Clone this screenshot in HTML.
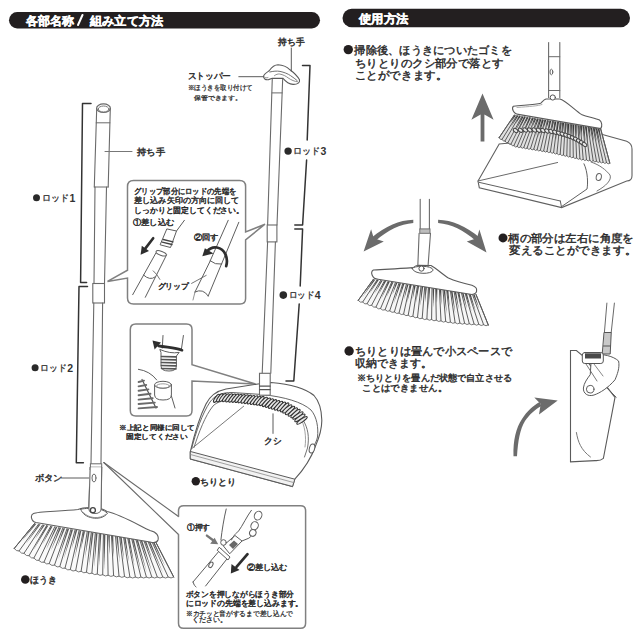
<!DOCTYPE html>
<html><head><meta charset="utf-8"><style>
html,body{margin:0;padding:0;background:#fff;width:640px;height:640px;overflow:hidden}
svg{position:absolute;left:0;top:0;display:block}
text{font-family:"Liberation Sans",sans-serif}
</style></head><body>
<svg width="640" height="640" viewBox="0 0 640 640" stroke-linecap="round">
<rect width="640" height="640" fill="#fff"/>
<rect x="9" y="12" width="311" height="16.5" rx="8.2" fill="#231f20"/>
<rect x="342.5" y="8.8" width="287.5" height="18.5" rx="9.2" fill="#231f20"/>
<line x1="78" y1="25" x2="82.5" y2="15" stroke="#fff" stroke-width="2"/>
<polyline points="91.0,103.5 82.5,103.5 80.6,282.6 86.6,282.6" stroke="#333333" stroke-width="1.5" fill="none" stroke-linejoin="round"/>
<polyline points="87.5,286.5 79.0,286.5 76.3,462.8 83.4,462.8" stroke="#333333" stroke-width="1.5" fill="none" stroke-linejoin="round"/>
<polyline points="302.5,65.5 310.0,65.5 307.2,140.0" stroke="#333333" stroke-width="1.5" fill="none" stroke-linejoin="round"/>
<polyline points="306.6,160.0 302.6,225.0 294.8,225.0" stroke="#333333" stroke-width="1.5" fill="none" stroke-linejoin="round"/>
<polyline points="294.8,229.0 302.6,229.0 300.2,286.0" stroke="#333333" stroke-width="1.5" fill="none" stroke-linejoin="round"/>
<polyline points="299.2,304.0 293.8,381.0 286.0,381.0" stroke="#333333" stroke-width="1.5" fill="none" stroke-linejoin="round"/>
<ellipse cx="103.5" cy="108.2" rx="6.9" ry="4.3" stroke="#6a6a6a" stroke-width="1.2" fill="#fff" transform="rotate(0 103.5 108.2)"/>
<ellipse cx="103.6" cy="109.0" rx="5.3" ry="3.0" stroke="#7a7a7a" stroke-width="1.0" fill="none" transform="rotate(0 103.6 109.0)"/>
<line x1="96.7" y1="108.5" x2="94.3" y2="187.0" stroke="#6a6a6a" stroke-width="1.1"/>
<line x1="110.3" y1="108.5" x2="108.2" y2="187.0" stroke="#6a6a6a" stroke-width="1.1"/>
<line x1="96.2" y1="122.8" x2="109.9" y2="122.8" stroke="#6a6a6a" stroke-width="1.0"/>
<line x1="94.3" y1="187.0" x2="108.2" y2="187.0" stroke="#6a6a6a" stroke-width="1.0"/>
<line x1="95.0" y1="187.0" x2="94.0" y2="283.5" stroke="#6a6a6a" stroke-width="1.1"/>
<line x1="106.5" y1="187.0" x2="104.5" y2="283.5" stroke="#6a6a6a" stroke-width="1.1"/>
<rect x="92.8" y="283.5" width="11.7" height="19.5" rx="0" stroke="#6a6a6a" stroke-width="1.1" fill="#fff"/>
<line x1="93.8" y1="303.0" x2="91.0" y2="463.5" stroke="#6a6a6a" stroke-width="1.1"/>
<line x1="102.6" y1="303.0" x2="101.0" y2="463.5" stroke="#6a6a6a" stroke-width="1.1"/>
<rect x="90.4" y="463.8" width="11.3" height="3.4" rx="0" stroke="#6a6a6a" stroke-width="1.0" fill="#fff"/>
<line x1="90.2" y1="467.2" x2="88.7" y2="510.0" stroke="#6a6a6a" stroke-width="1.1"/>
<line x1="101.7" y1="467.2" x2="101.0" y2="510.0" stroke="#6a6a6a" stroke-width="1.1"/>
<ellipse cx="94.0" cy="478.0" rx="2.0" ry="4.0" stroke="#6a6a6a" stroke-width="1.0" fill="none" transform="rotate(0 94.0 478.0)"/>
<line x1="61.5" y1="478.0" x2="91.0" y2="478.0" stroke="#5a5a5a" stroke-width="1.0"/>
<line x1="103.8" y1="462.5" x2="178.5" y2="516.5" stroke="#6a6a6a" stroke-width="1.1"/>
<line x1="103.8" y1="462.5" x2="178.5" y2="534.5" stroke="#6a6a6a" stroke-width="1.1"/>
<polygon points="34.6,523.5 156.0,542.5 173.7,577.0 130.0,577.0 100.0,574.5 70.0,569.5 40.0,561.0 14.2,548.5" stroke="none" stroke-width="0" fill="#fafafa" stroke-linejoin="round"/>
<line x1="34.6" y1="523.5" x2="14.2" y2="548.5" stroke="#5a5a5a" stroke-width="0.95"/>
<path d="M34.75,523.66 L36.45,523.66 L21.58,541.33 Z" fill="#5a5a5a"/>
<line x1="38.6" y1="524.1" x2="19.1" y2="550.9" stroke="#5a5a5a" stroke-width="0.95"/>
<path d="M38.91,524.31 L40.61,524.31 L25.84,543.96 Z" fill="#5a5a5a"/>
<line x1="42.7" y1="524.8" x2="24.0" y2="553.3" stroke="#5a5a5a" stroke-width="0.95"/>
<path d="M43.16,524.97 L44.86,524.97 L35.20,538.91 Z" fill="#5a5a5a"/>
<line x1="46.7" y1="525.4" x2="29.0" y2="555.7" stroke="#5a5a5a" stroke-width="0.95"/>
<path d="M46.71,525.53 L48.41,525.53 L33.01,550.84 Z" fill="#5a5a5a"/>
<line x1="50.8" y1="526.0" x2="33.9" y2="558.0" stroke="#5a5a5a" stroke-width="0.95"/>
<path d="M50.96,526.19 L52.66,526.19 L42.54,544.21 Z" fill="#5a5a5a"/>
<line x1="54.8" y1="526.7" x2="38.8" y2="560.4" stroke="#5a5a5a" stroke-width="0.95"/>
<path d="M55.60,526.92 L57.30,526.92 L46.11,549.62 Z" fill="#5a5a5a"/>
<line x1="58.9" y1="527.3" x2="44.0" y2="562.1" stroke="#5a5a5a" stroke-width="0.95"/>
<path d="M59.52,527.53 L61.22,527.53 L50.77,550.88 Z" fill="#5a5a5a"/>
<line x1="62.9" y1="527.9" x2="49.2" y2="563.6" stroke="#5a5a5a" stroke-width="0.95"/>
<path d="M63.40,528.14 L65.10,528.14 L57.38,546.76 Z" fill="#5a5a5a"/>
<line x1="67.0" y1="528.6" x2="54.5" y2="565.1" stroke="#5a5a5a" stroke-width="0.95"/>
<path d="M67.45,528.77 L69.15,528.77 L58.15,559.73 Z" fill="#5a5a5a"/>
<line x1="71.0" y1="529.2" x2="59.8" y2="566.6" stroke="#5a5a5a" stroke-width="0.95"/>
<path d="M71.40,529.39 L73.10,529.39 L63.73,558.90 Z" fill="#5a5a5a"/>
<line x1="75.1" y1="529.8" x2="65.0" y2="568.1" stroke="#5a5a5a" stroke-width="0.95"/>
<path d="M75.57,530.05 L77.27,530.05 L71.81,548.50 Z" fill="#5a5a5a"/>
<line x1="79.1" y1="530.5" x2="70.3" y2="569.6" stroke="#5a5a5a" stroke-width="0.95"/>
<path d="M79.69,530.69 L81.39,530.69 L74.57,558.74 Z" fill="#5a5a5a"/>
<line x1="83.2" y1="531.1" x2="75.7" y2="570.4" stroke="#5a5a5a" stroke-width="0.95"/>
<path d="M83.36,531.26 L85.06,531.26 L80.91,549.55 Z" fill="#5a5a5a"/>
<line x1="87.2" y1="531.7" x2="81.1" y2="571.3" stroke="#5a5a5a" stroke-width="0.95"/>
<path d="M87.87,531.97 L89.57,531.97 L85.00,558.29 Z" fill="#5a5a5a"/>
<line x1="91.3" y1="532.4" x2="86.5" y2="572.2" stroke="#5a5a5a" stroke-width="0.95"/>
<path d="M91.79,532.58 L93.49,532.58 L89.01,566.38 Z" fill="#5a5a5a"/>
<line x1="95.3" y1="533.0" x2="91.9" y2="573.1" stroke="#5a5a5a" stroke-width="0.95"/>
<path d="M95.84,533.22 L97.54,533.22 L94.13,568.00 Z" fill="#5a5a5a"/>
<line x1="99.3" y1="533.6" x2="97.3" y2="574.0" stroke="#5a5a5a" stroke-width="0.95"/>
<path d="M99.63,533.81 L101.33,533.81 L99.10,566.62 Z" fill="#5a5a5a"/>
<line x1="103.4" y1="534.3" x2="102.7" y2="574.7" stroke="#5a5a5a" stroke-width="0.95"/>
<path d="M103.71,534.45 L105.41,534.45 L104.31,569.64 Z" fill="#5a5a5a"/>
<line x1="107.4" y1="534.9" x2="108.1" y2="575.2" stroke="#5a5a5a" stroke-width="0.95"/>
<path d="M108.11,535.14 L109.81,535.14 L109.57,555.00 Z" fill="#5a5a5a"/>
<line x1="111.5" y1="535.5" x2="113.6" y2="575.6" stroke="#5a5a5a" stroke-width="0.95"/>
<path d="M111.56,535.68 L113.26,535.68 L113.74,557.62 Z" fill="#5a5a5a"/>
<line x1="115.5" y1="536.2" x2="119.0" y2="576.1" stroke="#5a5a5a" stroke-width="0.95"/>
<path d="M116.27,536.42 L117.97,536.42 L119.75,562.17 Z" fill="#5a5a5a"/>
<line x1="119.6" y1="536.8" x2="124.5" y2="576.5" stroke="#5a5a5a" stroke-width="0.95"/>
<path d="M120.05,537.01 L121.75,537.01 L124.04,560.24 Z" fill="#5a5a5a"/>
<line x1="123.6" y1="537.4" x2="129.9" y2="577.0" stroke="#5a5a5a" stroke-width="0.95"/>
<path d="M124.00,537.62 L125.70,537.62 L129.06,562.18 Z" fill="#5a5a5a"/>
<line x1="127.7" y1="538.1" x2="135.4" y2="577.0" stroke="#5a5a5a" stroke-width="0.95"/>
<path d="M127.92,538.24 L129.62,538.24 L134.56,565.89 Z" fill="#5a5a5a"/>
<line x1="131.7" y1="538.7" x2="140.9" y2="577.0" stroke="#5a5a5a" stroke-width="0.95"/>
<path d="M132.15,538.90 L133.85,538.90 L141.24,571.55 Z" fill="#5a5a5a"/>
<line x1="135.8" y1="539.3" x2="146.4" y2="577.0" stroke="#5a5a5a" stroke-width="0.95"/>
<path d="M136.28,539.55 L137.98,539.55 L146.73,572.06 Z" fill="#5a5a5a"/>
<line x1="139.8" y1="540.0" x2="151.8" y2="577.0" stroke="#5a5a5a" stroke-width="0.95"/>
<path d="M140.47,540.20 L142.17,540.20 L152.55,573.17 Z" fill="#5a5a5a"/>
<line x1="143.9" y1="540.6" x2="157.3" y2="577.0" stroke="#5a5a5a" stroke-width="0.95"/>
<path d="M144.36,540.81 L146.06,540.81 L152.49,559.75 Z" fill="#5a5a5a"/>
<line x1="147.9" y1="541.2" x2="162.8" y2="577.0" stroke="#5a5a5a" stroke-width="0.95"/>
<path d="M148.56,541.47 L150.26,541.47 L163.01,572.88 Z" fill="#5a5a5a"/>
<line x1="152.0" y1="541.9" x2="168.2" y2="577.0" stroke="#5a5a5a" stroke-width="0.95"/>
<path d="M152.64,542.11 L154.34,542.11 L165.37,566.75 Z" fill="#5a5a5a"/>
<line x1="156.0" y1="542.5" x2="173.7" y2="577.0" stroke="#5a5a5a" stroke-width="0.95"/>
<path d="M14.2,548.5 Q16.7,551.7 19.1,550.9 Q21.6,554.1 24.0,553.3 Q26.5,556.5 29.0,555.7 Q31.4,558.8 33.9,558.0 Q36.3,561.2 38.8,560.4 Q41.4,563.3 44.0,562.1 Q46.6,564.9 49.2,563.6 Q51.9,566.4 54.5,565.1 Q57.1,567.9 59.8,566.6 Q62.4,569.3 65.0,568.1 Q67.7,570.8 70.3,569.6 Q73.0,572.0 75.7,570.4 Q78.4,572.9 81.1,571.3 Q83.8,573.8 86.5,572.2 Q89.2,574.7 91.9,573.1 Q94.6,575.6 97.3,574.0 Q100.0,576.4 102.7,574.7 Q105.4,577.0 108.1,575.2 Q110.9,577.4 113.6,575.6 Q116.3,577.9 119.0,576.1 Q121.8,578.3 124.5,576.5 Q127.2,578.8 129.9,577.0 Q132.7,579.0 135.4,577.0 Q138.2,579.0 140.9,577.0 Q143.6,579.0 146.4,577.0 Q149.1,579.0 151.8,577.0 Q154.6,579.0 157.3,577.0 Q160.0,579.0 162.8,577.0 Q165.5,579.0 168.2,577.0 Q171.0,579.0 173.7,577.0" stroke="#666" stroke-width="0.9" fill="none" />
<line x1="34.6" y1="523.5" x2="14.2" y2="548.5" stroke="#5a5a5a" stroke-width="1.0"/>
<line x1="156.0" y1="542.5" x2="173.7" y2="577.0" stroke="#5a5a5a" stroke-width="1.0"/>
<path d="M33.5,513.5 C38,511.5 60,511.5 78,509.5 C84,506.5 100,506.5 107,511.5 C122,515 140,526 150,530.5 C157,532 159,536 158,540 C157,543 154,543 150,542 L36,522.5 C31,521.5 30,515 33.5,513.5 Z" stroke="#606060" stroke-width="1.1" fill="#fff" />
<path d="M80.8,509.2 C83,518.5 101,522 107.5,513.2 C104,510 99,508.5 95,508.3 C89,508.2 83,508.5 80.8,509.2 Z" stroke="#5a5a5a" stroke-width="1.0" fill="#fff" />
<path d="M83.5,512.5 C88,518.5 100,519.5 105.5,514.5" stroke="#888" stroke-width="0.9" fill="none" />
<rect x="89.2" y="470" width="11.4" height="40" fill="#fff"/>
<path d="M90.2,467.2 L88.9,509 C89,515 101,515 101.1,509 L101.7,467.2" stroke="#6a6a6a" stroke-width="1.1" fill="#fff" />
<ellipse cx="94.0" cy="478.0" rx="2.0" ry="4.0" stroke="#6a6a6a" stroke-width="1.0" fill="none" transform="rotate(0 94.0 478.0)"/>
<circle cx="92.9" cy="510.2" r="2.5" stroke="#444" stroke-width="1.3" fill="#fff"/>
<path d="M133.5,180.4 L239.6,180.4 Q245.6,180.4 245.6,186.4 L245.6,232 L265,224.2 L245.6,239.8 L245.6,298.5 Q245.6,304 240.1,304 L133.5,304 Q127.5,304 127.5,298 L127.5,278.1 L107.5,281.4 L127.5,270.2 L127.5,186.4 Q127.5,180.4 133.5,180.4 Z" stroke="#808080" stroke-width="1.5" fill="#fff" />
<path d="M135.8,323.9 L186.5,323.9 Q192,323.9 192,329.4 L192,364.6 L255.5,384 L192,381 L192,410.6 Q192,416.1 186.5,416.1 L135.8,416.1 Q130.3,416.1 130.3,410.6 L130.3,329.4 Q130.3,323.9 135.8,323.9 Z" stroke="#808080" stroke-width="1.5" fill="#fff" />
<path d="M178.5,516.5 L178.5,511 Q178.5,505.8 183.7,505.8 L300.6,505.8 Q305.6,505.8 305.6,510.8 L305.6,623.3 Q305.6,628.3 300.6,628.3 L183.5,628.3 Q178.5,628.3 178.5,623.3 L178.5,534.5" stroke="#808080" stroke-width="1.5" fill="none" />
<line x1="272.3" y1="78.0" x2="267.6" y2="225.0" stroke="#6a6a6a" stroke-width="1.1"/>
<line x1="282.7" y1="78.5" x2="277.0" y2="225.0" stroke="#6a6a6a" stroke-width="1.1"/>
<line x1="272.0" y1="92.9" x2="282.2" y2="92.9" stroke="#6a6a6a" stroke-width="1.0"/>
<rect x="267.2" y="225.0" width="9.7" height="16.9" rx="0" stroke="#6a6a6a" stroke-width="1.1" fill="#fff"/>
<line x1="267.6" y1="242.0" x2="262.2" y2="373.3" stroke="#6a6a6a" stroke-width="1.1"/>
<line x1="275.4" y1="242.0" x2="270.8" y2="373.3" stroke="#6a6a6a" stroke-width="1.1"/>
<path d="M272.3,78.2 L268.5,79.6 C265.5,80.2 263.2,78.5 263.6,76.2 C264,74 266.5,72.6 269.2,70.8 C272,66.8 275,64.8 278,64.8 C283,65 287,67 290,69.8 C294,72.8 297.5,76.2 299.5,79.8 C300.2,83 297,84.6 293,84.4 C289.5,84.1 286.5,82.6 283,78.4 Z" stroke="#5a5a5a" stroke-width="1.1" fill="#fff" />
<path d="M269.8,72 C273,71.2 277,70.8 280,71.4 C284,72.2 288,73.8 290.5,75.6 C293,77.4 295.5,79 297.2,80.6" stroke="#707070" stroke-width="1.0" fill="none" />
<path d="M274.5,75.6 C276,74.4 278,73.8 279.5,74 C283,74.6 286,76.2 288,77.8 C291,80 295,81.6 297.5,81.8" stroke="#808080" stroke-width="0.9" fill="none" />
<path d="M263.8,76.5 C265,77.8 266.5,78.4 268,77.6" stroke="#777" stroke-width="0.8" fill="none" />
<line x1="238.8" y1="76.7" x2="263.6" y2="76.7" stroke="#5a5a5a" stroke-width="1.0"/>
<line x1="291.3" y1="48.0" x2="291.3" y2="71.2" stroke="#5a5a5a" stroke-width="1.0"/>
<line x1="105.0" y1="151.5" x2="132.0" y2="151.5" stroke="#777" stroke-width="1.0"/>
<path d="M190.5,451 C194,436 199,418 206,404 C210,396 216,391 226,389 L258,384 L271,382.5 C290,384 305,388 314,395.5 C319,401 321.6,411 321.8,420 C322,430 319,438 315.5,446 C312,456 306,467 294.8,479.2 L292.5,486.5 L190.5,459 Z" stroke="#5a5a5a" stroke-width="1.1" fill="#fff" />
<path d="M190.5,451.5 L294.8,479.2 L292.5,486.5 L190.5,459 Z" fill="#f2f2f2" stroke="#5a5a5a" stroke-width="1.0"/>
<line x1="190.8" y1="454.6" x2="293.8" y2="482.6" stroke="#8a8a8a" stroke-width="0.8"/>
<path d="M191.5,449 C196,432 202,414 210,402 C215,395 222,392.5 232,392.5 L262,394.5 C285,397 302,402 311,410 C317,417 318.5,428 317.5,437 C316.8,441 314.5,445 312.5,448" stroke="#5e5e5e" stroke-width="0.95" fill="none" />
<path d="M194,447.5 C199,432 205,416 213,406 C218,401 224,400.5 232,401 L262,403.5 C283,406.5 296,411 303,420 C308,428 309.5,437 307.5,448 L304.5,457" stroke="#6a6a6a" stroke-width="0.95" fill="none" />
<path d="M300,417 C305,425 306.5,437 305,447" stroke="#8a8a8a" stroke-width="0.8" fill="none" />
<line x1="192.5" y1="448.0" x2="243.7" y2="406.2" stroke="#6a6a6a" stroke-width="0.9"/>
<ellipse cx="312.0" cy="448.5" rx="2.6" ry="4.6" stroke="#5a5a5a" stroke-width="1.0" fill="#fff" transform="rotate(15 312.0 448.5)"/>
<ellipse cx="216.6" cy="398.3" rx="4.8" ry="1.6" stroke="#333" stroke-width="1.1" fill="#e6e6e6" transform="rotate(-54.84553582395459 216.6 398.3)"/>
<ellipse cx="219.7" cy="397.8" rx="4.8" ry="1.6" stroke="#333" stroke-width="1.1" fill="#e6e6e6" transform="rotate(-54.84553582395459 219.7 397.8)"/>
<ellipse cx="222.8" cy="397.5" rx="4.9" ry="1.6" stroke="#333" stroke-width="1.1" fill="#e6e6e6" transform="rotate(-50.88705945804752 222.8 397.5)"/>
<ellipse cx="225.9" cy="397.7" rx="4.9" ry="1.6" stroke="#333" stroke-width="1.1" fill="#e6e6e6" transform="rotate(-50.88705945804752 225.9 397.7)"/>
<ellipse cx="229.1" cy="397.9" rx="5.0" ry="1.6" stroke="#333" stroke-width="1.1" fill="#e6e6e6" transform="rotate(-50.88705945804752 229.1 397.9)"/>
<ellipse cx="232.2" cy="398.1" rx="5.0" ry="1.6" stroke="#333" stroke-width="1.1" fill="#e6e6e6" transform="rotate(-50.88705945804752 232.2 398.1)"/>
<ellipse cx="235.3" cy="398.2" rx="5.1" ry="1.6" stroke="#333" stroke-width="1.1" fill="#e6e6e6" transform="rotate(-50.88705945804752 235.3 398.2)"/>
<ellipse cx="238.5" cy="398.4" rx="5.1" ry="1.6" stroke="#333" stroke-width="1.1" fill="#e6e6e6" transform="rotate(-50.88705945804752 238.5 398.4)"/>
<ellipse cx="241.6" cy="398.7" rx="5.2" ry="1.6" stroke="#333" stroke-width="1.1" fill="#e6e6e6" transform="rotate(-49.73092420748597 241.6 398.7)"/>
<ellipse cx="244.7" cy="399.0" rx="5.2" ry="1.6" stroke="#333" stroke-width="1.1" fill="#e6e6e6" transform="rotate(-49.73092420748597 244.7 399.0)"/>
<ellipse cx="247.8" cy="399.4" rx="5.3" ry="1.6" stroke="#333" stroke-width="1.1" fill="#e6e6e6" transform="rotate(-49.73092420748597 247.8 399.4)"/>
<ellipse cx="251.0" cy="399.7" rx="5.3" ry="1.6" stroke="#333" stroke-width="1.1" fill="#e6e6e6" transform="rotate(-49.73092420748597 251.0 399.7)"/>
<ellipse cx="254.1" cy="400.1" rx="5.4" ry="1.6" stroke="#333" stroke-width="1.1" fill="#e6e6e6" transform="rotate(-49.73092420748597 254.1 400.1)"/>
<ellipse cx="257.2" cy="400.5" rx="5.4" ry="1.6" stroke="#333" stroke-width="1.1" fill="#e6e6e6" transform="rotate(-49.73092420748597 257.2 400.5)"/>
<ellipse cx="260.3" cy="400.8" rx="5.5" ry="1.6" stroke="#333" stroke-width="1.1" fill="#e6e6e6" transform="rotate(-49.73092420748597 260.3 400.8)"/>
<ellipse cx="263.4" cy="401.4" rx="5.5" ry="1.6" stroke="#333" stroke-width="1.1" fill="#e6e6e6" transform="rotate(-46.476736341669614 263.4 401.4)"/>
<ellipse cx="266.4" cy="402.3" rx="5.6" ry="1.6" stroke="#333" stroke-width="1.1" fill="#e6e6e6" transform="rotate(-46.476736341669614 266.4 402.3)"/>
<ellipse cx="269.4" cy="403.1" rx="5.6" ry="1.6" stroke="#333" stroke-width="1.1" fill="#e6e6e6" transform="rotate(-46.476736341669614 269.4 403.1)"/>
<ellipse cx="272.5" cy="404.0" rx="5.7" ry="1.6" stroke="#333" stroke-width="1.1" fill="#e6e6e6" transform="rotate(-46.476736341669614 272.5 404.0)"/>
<ellipse cx="275.5" cy="404.8" rx="5.7" ry="1.6" stroke="#333" stroke-width="1.1" fill="#e6e6e6" transform="rotate(-46.476736341669614 275.5 404.8)"/>
<ellipse cx="278.5" cy="405.7" rx="5.8" ry="1.6" stroke="#333" stroke-width="1.1" fill="#e6e6e6" transform="rotate(-46.476736341669614 278.5 405.7)"/>
<ellipse cx="281.5" cy="406.5" rx="5.8" ry="1.6" stroke="#333" stroke-width="1.1" fill="#e6e6e6" transform="rotate(-46.476736341669614 281.5 406.5)"/>
<ellipse cx="284.6" cy="407.4" rx="5.9" ry="1.6" stroke="#333" stroke-width="1.1" fill="#e6e6e6" transform="rotate(-46.476736341669614 284.6 407.4)"/>
<ellipse cx="287.3" cy="408.9" rx="5.9" ry="1.6" stroke="#333" stroke-width="1.1" fill="#e6e6e6" transform="rotate(-41.410246992764755 287.3 408.9)"/>
<ellipse cx="290.0" cy="410.4" rx="6.0" ry="1.6" stroke="#333" stroke-width="1.1" fill="#e6e6e6" transform="rotate(-41.410246992764755 290.0 410.4)"/>
<ellipse cx="292.8" cy="412.0" rx="6.0" ry="1.6" stroke="#333" stroke-width="1.1" fill="#e6e6e6" transform="rotate(-41.410246992764755 292.8 412.0)"/>
<ellipse cx="295.5" cy="413.6" rx="6.0" ry="1.6" stroke="#333" stroke-width="1.1" fill="#e6e6e6" transform="rotate(-41.410246992764755 295.5 413.6)"/>
<ellipse cx="297.9" cy="415.5" rx="6.1" ry="1.6" stroke="#333" stroke-width="1.1" fill="#e6e6e6" transform="rotate(-34.71045312575156 297.9 415.5)"/>
<ellipse cx="299.9" cy="417.9" rx="6.1" ry="1.6" stroke="#333" stroke-width="1.1" fill="#e6e6e6" transform="rotate(-34.71045312575156 299.9 417.9)"/>
<ellipse cx="302.0" cy="420.3" rx="6.2" ry="1.6" stroke="#333" stroke-width="1.1" fill="#e6e6e6" transform="rotate(-34.71045312575156 302.0 420.3)"/>
<line x1="273.0" y1="413.8" x2="273.0" y2="433.4" stroke="#5a5a5a" stroke-width="1.0"/>
<rect x="259.5" y="373.3" width="10.7" height="21.9" fill="#fff" stroke="#6a6a6a" stroke-width="1.1"/>
<line x1="259.5" y1="386.1" x2="270.2" y2="386.1" stroke="#555" stroke-width="1.1"/>
<line x1="259.5" y1="389.6" x2="270.2" y2="389.6" stroke="#555" stroke-width="1.1"/>
<path d="M600.6,134 L626.7,141.2 C631,143 632,146 632,149 L632,175.8 C632,179 630,181 626.7,181 L561.6,207.6 L479.3,187.7 L478,181 L499.2,144 Z" stroke="#606060" stroke-width="1.1" fill="#fff" />
<line x1="478.0" y1="181.0" x2="557.6" y2="162.5" stroke="#6a6a6a" stroke-width="1.0"/>
<line x1="479.3" y1="182.4" x2="560.3" y2="201.0" stroke="#606060" stroke-width="1.0"/>
<path d="M584,163.8 C588,172 588,184 587,189 L561,207" stroke="#606060" stroke-width="1.0" fill="none" />
<path d="M560.3,201 L561.6,207.6" stroke="#606060" stroke-width="1.0" fill="none" />
<ellipse cx="598.8" cy="177.0" rx="2.6" ry="3.6" stroke="#666" stroke-width="1.0" fill="none" transform="rotate(10 598.8 177.0)"/>
<path d="M591,162 C600,165 606,170 610,175 C612,180 606,186 597,191" stroke="#777" stroke-width="1.0" fill="none" />
<polygon points="514.4,115.0 600.7,129.0 609.8,163.1 581.4,159.0 551.0,152.0 514.4,145.9 499.1,137.7" stroke="none" stroke-width="0" fill="#e0e0e0" stroke-linejoin="round"/>
<line x1="514.4" y1="115.0" x2="499.1" y2="137.7" stroke="#4e4e4e" stroke-width="0.9"/>
<path d="M514.52,115.14 L516.02,115.14 L509.76,123.54 Z" fill="#3a3a3a"/>
<line x1="516.9" y1="115.4" x2="502.1" y2="139.3" stroke="#4e4e4e" stroke-width="0.9"/>
<path d="M517.12,115.56 L518.62,115.56 L510.92,127.04 Z" fill="#3a3a3a"/>
<line x1="519.5" y1="115.8" x2="505.0" y2="140.9" stroke="#4e4e4e" stroke-width="0.9"/>
<path d="M519.38,115.93 L520.88,115.93 L515.55,124.02 Z" fill="#3a3a3a"/>
<line x1="522.0" y1="116.2" x2="508.0" y2="142.5" stroke="#4e4e4e" stroke-width="0.9"/>
<path d="M522.21,116.39 L523.71,116.39 L514.68,132.31 Z" fill="#3a3a3a"/>
<line x1="524.6" y1="116.6" x2="511.0" y2="144.1" stroke="#4e4e4e" stroke-width="0.9"/>
<path d="M524.36,116.74 L525.86,116.74 L517.81,131.68 Z" fill="#3a3a3a"/>
<line x1="527.1" y1="117.1" x2="513.9" y2="145.6" stroke="#4e4e4e" stroke-width="0.9"/>
<path d="M527.06,117.17 L528.56,117.17 L523.32,127.11 Z" fill="#3a3a3a"/>
<line x1="529.6" y1="117.5" x2="517.2" y2="146.4" stroke="#4e4e4e" stroke-width="0.9"/>
<path d="M529.54,117.58 L531.04,117.58 L523.79,132.93 Z" fill="#3a3a3a"/>
<line x1="532.2" y1="117.9" x2="520.5" y2="146.9" stroke="#4e4e4e" stroke-width="0.9"/>
<path d="M532.37,118.04 L533.87,118.04 L529.55,127.15 Z" fill="#3a3a3a"/>
<line x1="534.7" y1="118.3" x2="523.8" y2="147.5" stroke="#4e4e4e" stroke-width="0.9"/>
<path d="M534.78,118.43 L536.28,118.43 L532.19,127.59 Z" fill="#3a3a3a"/>
<line x1="537.2" y1="118.7" x2="527.1" y2="148.0" stroke="#4e4e4e" stroke-width="0.9"/>
<path d="M537.37,118.85 L538.87,118.85 L534.19,130.57 Z" fill="#3a3a3a"/>
<line x1="539.8" y1="119.1" x2="530.5" y2="148.6" stroke="#4e4e4e" stroke-width="0.9"/>
<path d="M539.99,119.27 L541.49,119.27 L535.37,136.81 Z" fill="#3a3a3a"/>
<line x1="542.3" y1="119.5" x2="533.8" y2="149.1" stroke="#4e4e4e" stroke-width="0.9"/>
<path d="M542.33,119.65 L543.83,119.65 L538.10,137.43 Z" fill="#3a3a3a"/>
<line x1="544.9" y1="119.9" x2="537.1" y2="149.7" stroke="#4e4e4e" stroke-width="0.9"/>
<path d="M544.77,120.05 L546.27,120.05 L543.08,129.67 Z" fill="#3a3a3a"/>
<line x1="547.4" y1="120.4" x2="540.4" y2="150.2" stroke="#4e4e4e" stroke-width="0.9"/>
<path d="M547.46,120.48 L548.96,120.48 L546.12,129.74 Z" fill="#3a3a3a"/>
<line x1="549.9" y1="120.8" x2="543.7" y2="150.8" stroke="#4e4e4e" stroke-width="0.9"/>
<path d="M549.79,120.86 L551.29,120.86 L548.00,133.56 Z" fill="#3a3a3a"/>
<line x1="552.5" y1="121.2" x2="547.0" y2="151.3" stroke="#4e4e4e" stroke-width="0.9"/>
<path d="M552.54,121.31 L554.04,121.31 L551.49,131.79 Z" fill="#3a3a3a"/>
<line x1="555.0" y1="121.6" x2="550.4" y2="151.9" stroke="#4e4e4e" stroke-width="0.9"/>
<path d="M554.79,121.67 L556.29,121.67 L553.02,138.67 Z" fill="#3a3a3a"/>
<line x1="557.5" y1="122.0" x2="553.6" y2="152.6" stroke="#4e4e4e" stroke-width="0.9"/>
<path d="M557.47,122.11 L558.97,122.11 L556.04,140.15 Z" fill="#3a3a3a"/>
<line x1="560.1" y1="122.4" x2="556.9" y2="153.4" stroke="#4e4e4e" stroke-width="0.9"/>
<path d="M560.30,122.57 L561.80,122.57 L559.86,135.42 Z" fill="#3a3a3a"/>
<line x1="562.6" y1="122.8" x2="560.2" y2="154.1" stroke="#4e4e4e" stroke-width="0.9"/>
<path d="M562.62,122.94 L564.12,122.94 L562.36,137.26 Z" fill="#3a3a3a"/>
<line x1="565.2" y1="123.2" x2="563.5" y2="154.9" stroke="#4e4e4e" stroke-width="0.9"/>
<path d="M565.25,123.37 L566.75,123.37 L565.31,138.57 Z" fill="#3a3a3a"/>
<line x1="567.7" y1="123.6" x2="566.8" y2="155.6" stroke="#4e4e4e" stroke-width="0.9"/>
<path d="M567.74,123.78 L569.24,123.78 L568.15,139.37 Z" fill="#3a3a3a"/>
<line x1="570.2" y1="124.1" x2="570.0" y2="156.4" stroke="#4e4e4e" stroke-width="0.9"/>
<path d="M570.48,124.22 L571.98,124.22 L571.26,138.89 Z" fill="#3a3a3a"/>
<line x1="572.8" y1="124.5" x2="573.3" y2="157.1" stroke="#4e4e4e" stroke-width="0.9"/>
<path d="M572.76,124.59 L574.26,124.59 L573.89,141.50 Z" fill="#3a3a3a"/>
<line x1="575.3" y1="124.9" x2="576.6" y2="157.9" stroke="#4e4e4e" stroke-width="0.9"/>
<path d="M575.20,124.98 L576.70,124.98 L576.51,137.90 Z" fill="#3a3a3a"/>
<line x1="577.9" y1="125.3" x2="579.9" y2="158.6" stroke="#4e4e4e" stroke-width="0.9"/>
<path d="M578.11,125.46 L579.61,125.46 L579.91,140.74 Z" fill="#3a3a3a"/>
<line x1="580.4" y1="125.7" x2="583.2" y2="159.3" stroke="#4e4e4e" stroke-width="0.9"/>
<path d="M580.43,125.83 L581.93,125.83 L582.10,136.02 Z" fill="#3a3a3a"/>
<line x1="582.9" y1="126.1" x2="586.5" y2="159.7" stroke="#4e4e4e" stroke-width="0.9"/>
<path d="M582.90,126.23 L584.40,126.23 L585.45,142.18 Z" fill="#3a3a3a"/>
<line x1="585.5" y1="126.5" x2="589.8" y2="160.2" stroke="#4e4e4e" stroke-width="0.9"/>
<path d="M585.24,126.61 L586.74,126.61 L588.18,142.95 Z" fill="#3a3a3a"/>
<line x1="588.0" y1="126.9" x2="593.2" y2="160.7" stroke="#4e4e4e" stroke-width="0.9"/>
<path d="M588.09,127.08 L589.59,127.08 L590.56,137.82 Z" fill="#3a3a3a"/>
<line x1="590.5" y1="127.4" x2="596.5" y2="161.2" stroke="#4e4e4e" stroke-width="0.9"/>
<path d="M590.62,127.49 L592.12,127.49 L594.10,142.38 Z" fill="#3a3a3a"/>
<line x1="593.1" y1="127.8" x2="599.8" y2="161.7" stroke="#4e4e4e" stroke-width="0.9"/>
<path d="M593.19,127.90 L594.69,127.90 L596.78,141.67 Z" fill="#3a3a3a"/>
<line x1="595.6" y1="128.2" x2="603.1" y2="162.1" stroke="#4e4e4e" stroke-width="0.9"/>
<path d="M595.74,128.32 L597.24,128.32 L600.55,146.04 Z" fill="#3a3a3a"/>
<line x1="598.2" y1="128.6" x2="606.5" y2="162.6" stroke="#4e4e4e" stroke-width="0.9"/>
<path d="M597.93,128.67 L599.43,128.67 L601.38,139.50 Z" fill="#3a3a3a"/>
<line x1="600.7" y1="129.0" x2="609.8" y2="163.1" stroke="#4e4e4e" stroke-width="0.9"/>
<path d="M499.1,137.7 Q500.6,140.5 502.1,139.3 Q503.5,142.1 505.0,140.9 Q506.5,143.7 508.0,142.5 Q509.5,145.3 511.0,144.1 Q512.4,146.8 513.9,145.6 Q515.6,148.0 517.2,146.4 Q518.8,148.6 520.5,146.9 Q522.2,149.2 523.8,147.5 Q525.5,149.7 527.1,148.0 Q528.8,150.3 530.5,148.6 Q532.1,150.9 533.8,149.1 Q535.4,151.4 537.1,149.7 Q538.7,152.0 540.4,150.2 Q542.1,152.5 543.7,150.8 Q545.4,153.1 547.0,151.3 Q548.7,153.6 550.4,151.9 Q552.0,154.3 553.6,152.6 Q555.3,155.0 556.9,153.4 Q558.6,155.7 560.2,154.1 Q561.8,156.5 563.5,154.9 Q565.1,157.3 566.8,155.6 Q568.4,158.0 570.0,156.4 Q571.7,158.8 573.3,157.1 Q574.9,159.5 576.6,157.9 Q578.2,160.3 579.9,158.6 Q581.5,161.0 583.2,159.3 Q584.8,161.5 586.5,159.7 Q588.2,162.0 589.8,160.2 Q591.5,162.5 593.2,160.7 Q594.8,162.9 596.5,161.2 Q598.1,163.4 599.8,161.7 Q601.5,163.9 603.1,162.1 Q604.8,164.4 606.5,162.6 Q608.1,164.9 609.8,163.1" stroke="#555" stroke-width="0.9" fill="none" />
<line x1="514.4" y1="115.0" x2="499.1" y2="137.7" stroke="#5a5a5a" stroke-width="1.0"/>
<line x1="600.7" y1="129.0" x2="609.8" y2="163.1" stroke="#5a5a5a" stroke-width="1.0"/>
<ellipse cx="515.6" cy="130.5" rx="2.6" ry="1.7" stroke="#444" stroke-width="1.0" fill="#e6e6e6" transform="rotate(35 515.6 130.5)"/>
<ellipse cx="520.5" cy="130.2" rx="2.6" ry="1.7" stroke="#444" stroke-width="1.0" fill="#e6e6e6" transform="rotate(35 520.5 130.2)"/>
<ellipse cx="525.2" cy="130.0" rx="2.6" ry="1.7" stroke="#444" stroke-width="1.0" fill="#e6e6e6" transform="rotate(35 525.2 130.0)"/>
<ellipse cx="529.8" cy="129.9" rx="2.6" ry="1.7" stroke="#444" stroke-width="1.0" fill="#e6e6e6" transform="rotate(35 529.8 129.9)"/>
<ellipse cx="534.4" cy="130.0" rx="2.6" ry="1.7" stroke="#444" stroke-width="1.0" fill="#e6e6e6" transform="rotate(35 534.4 130.0)"/>
<ellipse cx="538.7" cy="130.2" rx="2.6" ry="1.7" stroke="#444" stroke-width="1.0" fill="#e6e6e6" transform="rotate(35 538.7 130.2)"/>
<ellipse cx="543.0" cy="130.5" rx="2.6" ry="1.7" stroke="#444" stroke-width="1.0" fill="#e6e6e6" transform="rotate(35 543.0 130.5)"/>
<ellipse cx="547.1" cy="131.0" rx="2.6" ry="1.7" stroke="#444" stroke-width="1.0" fill="#e6e6e6" transform="rotate(35 547.1 131.0)"/>
<ellipse cx="551.1" cy="131.5" rx="2.6" ry="1.7" stroke="#444" stroke-width="1.0" fill="#e6e6e6" transform="rotate(35 551.1 131.5)"/>
<ellipse cx="555.0" cy="132.2" rx="2.6" ry="1.7" stroke="#444" stroke-width="1.0" fill="#e6e6e6" transform="rotate(35 555.0 132.2)"/>
<ellipse cx="558.8" cy="133.1" rx="2.6" ry="1.7" stroke="#444" stroke-width="1.0" fill="#e6e6e6" transform="rotate(35 558.8 133.1)"/>
<ellipse cx="562.4" cy="134.1" rx="2.6" ry="1.7" stroke="#444" stroke-width="1.0" fill="#e6e6e6" transform="rotate(35 562.4 134.1)"/>
<ellipse cx="566.0" cy="135.2" rx="2.6" ry="1.7" stroke="#444" stroke-width="1.0" fill="#e6e6e6" transform="rotate(35 566.0 135.2)"/>
<ellipse cx="569.4" cy="136.4" rx="2.6" ry="1.7" stroke="#444" stroke-width="1.0" fill="#e6e6e6" transform="rotate(35 569.4 136.4)"/>
<ellipse cx="572.6" cy="137.8" rx="2.6" ry="1.7" stroke="#444" stroke-width="1.0" fill="#e6e6e6" transform="rotate(35 572.6 137.8)"/>
<ellipse cx="575.8" cy="139.2" rx="2.6" ry="1.7" stroke="#444" stroke-width="1.0" fill="#e6e6e6" transform="rotate(35 575.8 139.2)"/>
<ellipse cx="578.8" cy="140.9" rx="2.6" ry="1.7" stroke="#444" stroke-width="1.0" fill="#e6e6e6" transform="rotate(35 578.8 140.9)"/>
<ellipse cx="581.7" cy="142.6" rx="2.6" ry="1.7" stroke="#444" stroke-width="1.0" fill="#e6e6e6" transform="rotate(35 581.7 142.6)"/>
<ellipse cx="584.5" cy="144.5" rx="2.6" ry="1.7" stroke="#444" stroke-width="1.0" fill="#e6e6e6" transform="rotate(35 584.5 144.5)"/>
<path d="M513.4,106.2 C525,105 535,104.5 540.8,103.2 C543,101 544,99.5 546,99 L560,99 C566,101 575,110 581.4,114.4 C588,117 595,118 599.5,120 C602,122 602.5,126 600.7,128.6 L518.4,114.4 C513,114 511.5,108 513.4,106.2 Z" stroke="#5a5a5a" stroke-width="1.1" fill="#fff" />
<path d="M517,107.5 C530,106.5 538,106 542,104.5" stroke="#999" stroke-width="0.8" fill="none" />
<rect x="548.6" y="42.6" width="11.2" height="55" fill="#fff"/>
<line x1="548.6" y1="42.6" x2="548.6" y2="97.5" stroke="#6a6a6a" stroke-width="1.1"/>
<line x1="559.8" y1="42.6" x2="559.8" y2="97.5" stroke="#6a6a6a" stroke-width="1.1"/>
<line x1="548.6" y1="56.7" x2="559.8" y2="56.7" stroke="#6a6a6a" stroke-width="1.0"/>
<line x1="548.6" y1="90.5" x2="559.8" y2="90.5" stroke="#6a6a6a" stroke-width="1.0"/>
<ellipse cx="551.4" cy="72.0" rx="1.4" ry="2.8" stroke="#666" stroke-width="1.0" fill="none" transform="rotate(0 551.4 72.0)"/>
<circle cx="552.8" cy="97.5" r="2.6" stroke="#555" stroke-width="1.0" fill="#fff"/>
<polygon points="480.6,141.5 484.4,141.5 484.4,114.5 493.6,119.8 482.5,93.5 471.4,119.8 480.6,114.5" stroke="none" stroke-width="0" fill="#6b6b6b" stroke-linejoin="round"/>
<polygon points="373.4,279.3 476.0,294.5 488.3,325.0 455.5,322.7 420.3,318.0 380.5,308.6 358.2,300.4" stroke="none" stroke-width="0" fill="#f6f6f6" stroke-linejoin="round"/>
<line x1="373.4" y1="279.3" x2="358.2" y2="300.4" stroke="#555" stroke-width="0.95"/>
<path d="M373.83,279.48 L375.43,279.48 L362.31,297.18 Z" fill="#4a4a4a"/>
<line x1="377.1" y1="279.8" x2="362.7" y2="302.0" stroke="#555" stroke-width="0.95"/>
<path d="M377.18,279.98 L378.78,279.98 L369.29,293.72 Z" fill="#4a4a4a"/>
<line x1="380.7" y1="280.4" x2="367.1" y2="303.7" stroke="#555" stroke-width="0.95"/>
<path d="M381.10,280.56 L382.70,280.56 L374.49,293.67 Z" fill="#4a4a4a"/>
<line x1="384.4" y1="280.9" x2="371.6" y2="305.3" stroke="#555" stroke-width="0.95"/>
<path d="M384.59,281.08 L386.19,281.08 L378.45,294.69 Z" fill="#4a4a4a"/>
<line x1="388.1" y1="281.5" x2="376.0" y2="307.0" stroke="#555" stroke-width="0.95"/>
<path d="M388.26,281.62 L389.86,281.62 L381.15,298.90 Z" fill="#4a4a4a"/>
<line x1="391.7" y1="282.0" x2="380.5" y2="308.6" stroke="#555" stroke-width="0.95"/>
<path d="M391.87,282.16 L393.47,282.16 L386.33,297.62 Z" fill="#4a4a4a"/>
<line x1="395.4" y1="282.6" x2="385.1" y2="309.7" stroke="#555" stroke-width="0.95"/>
<path d="M395.88,282.75 L397.48,282.75 L392.41,294.54 Z" fill="#4a4a4a"/>
<line x1="399.0" y1="283.1" x2="389.7" y2="310.8" stroke="#555" stroke-width="0.95"/>
<path d="M399.40,283.27 L401.00,283.27 L393.64,303.57 Z" fill="#4a4a4a"/>
<line x1="402.7" y1="283.6" x2="394.4" y2="311.9" stroke="#555" stroke-width="0.95"/>
<path d="M402.87,283.79 L404.47,283.79 L399.52,298.36 Z" fill="#4a4a4a"/>
<line x1="406.4" y1="284.2" x2="399.0" y2="313.0" stroke="#555" stroke-width="0.95"/>
<path d="M406.90,284.38 L408.50,284.38 L404.04,299.46 Z" fill="#4a4a4a"/>
<line x1="410.0" y1="284.7" x2="403.6" y2="314.1" stroke="#555" stroke-width="0.95"/>
<path d="M410.11,284.86 L411.71,284.86 L407.18,302.62 Z" fill="#4a4a4a"/>
<line x1="413.7" y1="285.3" x2="408.2" y2="315.2" stroke="#555" stroke-width="0.95"/>
<path d="M414.15,285.46 L415.75,285.46 L412.58,299.37 Z" fill="#4a4a4a"/>
<line x1="417.4" y1="285.8" x2="412.9" y2="316.2" stroke="#555" stroke-width="0.95"/>
<path d="M417.54,285.96 L419.14,285.96 L415.96,303.09 Z" fill="#4a4a4a"/>
<line x1="421.0" y1="286.4" x2="417.5" y2="317.3" stroke="#555" stroke-width="0.95"/>
<path d="M421.58,286.56 L423.18,286.56 L420.45,305.39 Z" fill="#4a4a4a"/>
<line x1="424.7" y1="286.9" x2="422.2" y2="318.2" stroke="#555" stroke-width="0.95"/>
<path d="M425.26,287.10 L426.86,287.10 L425.00,302.51 Z" fill="#4a4a4a"/>
<line x1="428.4" y1="287.4" x2="426.9" y2="318.9" stroke="#555" stroke-width="0.95"/>
<path d="M428.54,287.59 L430.14,287.59 L428.50,309.39 Z" fill="#4a4a4a"/>
<line x1="432.0" y1="288.0" x2="431.6" y2="319.5" stroke="#555" stroke-width="0.95"/>
<path d="M432.61,288.19 L434.21,288.19 L433.37,307.42 Z" fill="#4a4a4a"/>
<line x1="435.7" y1="288.5" x2="436.3" y2="320.1" stroke="#555" stroke-width="0.95"/>
<path d="M435.79,288.66 L437.39,288.66 L436.99,303.55 Z" fill="#4a4a4a"/>
<line x1="439.4" y1="289.1" x2="441.0" y2="320.8" stroke="#555" stroke-width="0.95"/>
<path d="M439.68,289.24 L441.28,289.24 L441.46,305.10 Z" fill="#4a4a4a"/>
<line x1="443.0" y1="289.6" x2="445.7" y2="321.4" stroke="#555" stroke-width="0.95"/>
<path d="M443.55,289.81 L445.15,289.81 L446.71,314.37 Z" fill="#4a4a4a"/>
<line x1="446.7" y1="290.2" x2="450.4" y2="322.0" stroke="#555" stroke-width="0.95"/>
<path d="M446.75,290.29 L448.35,290.29 L449.69,307.41 Z" fill="#4a4a4a"/>
<line x1="450.4" y1="290.7" x2="455.1" y2="322.6" stroke="#555" stroke-width="0.95"/>
<path d="M450.87,290.90 L452.47,290.90 L455.23,312.89 Z" fill="#4a4a4a"/>
<line x1="454.0" y1="291.2" x2="459.9" y2="323.0" stroke="#555" stroke-width="0.95"/>
<path d="M454.54,291.44 L456.14,291.44 L458.86,309.34 Z" fill="#4a4a4a"/>
<line x1="457.7" y1="291.8" x2="464.6" y2="323.3" stroke="#555" stroke-width="0.95"/>
<path d="M457.71,291.91 L459.31,291.91 L462.39,309.00 Z" fill="#4a4a4a"/>
<line x1="461.3" y1="292.3" x2="469.3" y2="323.7" stroke="#555" stroke-width="0.95"/>
<path d="M461.86,292.52 L463.46,292.52 L467.13,309.22 Z" fill="#4a4a4a"/>
<line x1="465.0" y1="292.9" x2="474.1" y2="324.0" stroke="#555" stroke-width="0.95"/>
<path d="M465.19,293.02 L466.79,293.02 L471.57,311.51 Z" fill="#4a4a4a"/>
<line x1="468.7" y1="293.4" x2="478.8" y2="324.3" stroke="#555" stroke-width="0.95"/>
<path d="M468.91,293.57 L470.51,293.57 L475.90,311.84 Z" fill="#4a4a4a"/>
<line x1="472.3" y1="294.0" x2="483.6" y2="324.7" stroke="#555" stroke-width="0.95"/>
<path d="M472.94,294.17 L474.54,294.17 L479.39,309.04 Z" fill="#4a4a4a"/>
<line x1="476.0" y1="294.5" x2="488.3" y2="325.0" stroke="#555" stroke-width="0.95"/>
<path d="M358.2,300.4 Q360.4,303.2 362.7,302.0 Q364.9,304.9 367.1,303.7 Q369.3,306.5 371.6,305.3 Q373.8,308.1 376.0,307.0 Q378.3,309.8 380.5,308.6 Q382.8,311.1 385.1,309.7 Q387.4,312.2 389.7,310.8 Q392.1,313.3 394.4,311.9 Q396.7,314.4 399.0,313.0 Q401.3,315.5 403.6,314.1 Q405.9,316.6 408.2,315.2 Q410.6,317.7 412.9,316.2 Q415.2,318.8 417.5,317.3 Q419.8,319.8 422.2,318.2 Q424.5,320.6 426.9,318.9 Q429.2,321.2 431.6,319.5 Q433.9,321.8 436.3,320.1 Q438.6,322.4 441.0,320.8 Q443.3,323.1 445.7,321.4 Q448.1,323.7 450.4,322.0 Q452.8,324.3 455.1,322.6 Q457.5,324.8 459.9,323.0 Q462.2,325.2 464.6,323.3 Q467.0,325.5 469.3,323.7 Q471.7,325.8 474.1,324.0 Q476.4,326.2 478.8,324.3 Q481.2,326.5 483.6,324.7 Q485.9,326.8 488.3,325.0" stroke="#666" stroke-width="0.9" fill="none" />
<line x1="373.4" y1="279.3" x2="358.2" y2="300.4" stroke="#5a5a5a" stroke-width="1.0"/>
<line x1="476.0" y1="294.5" x2="488.3" y2="325.0" stroke="#5a5a5a" stroke-width="1.0"/>
<path d="M373.4,270 C385,269.5 400,268.5 413.3,267.6 C415,266 416,265.2 418,265.2 L431,265.5 C436,268 442,274 448.4,278 C456,281.5 464,283.5 471.9,285.2 C475,286.5 477,288 476.6,290 C477,292.5 475,294.5 471.9,294.5 L378.1,279.3 C372,279 370,272 373.4,270 Z" stroke="#5a5a5a" stroke-width="1.1" fill="#fff" />
<line x1="420.2" y1="199.4" x2="420.2" y2="229.0" stroke="#6a6a6a" stroke-width="1.1"/>
<line x1="429.4" y1="199.4" x2="429.4" y2="229.0" stroke="#6a6a6a" stroke-width="1.1"/>
<rect x="419.8" y="228.9" width="10.2" height="4.4" fill="#bdbdbd" stroke="#666" stroke-width="0.9"/>
<line x1="419.1" y1="233.3" x2="417.8" y2="266.5" stroke="#6a6a6a" stroke-width="1.1"/>
<line x1="430.5" y1="233.3" x2="428.0" y2="266.5" stroke="#6a6a6a" stroke-width="1.1"/>
<path d="M412.1,268.5 C413,265.5 432,265 433.2,270 C432,274.5 414,275 412.1,268.5 Z" stroke="#5a5a5a" stroke-width="1.0" fill="#fff" />
<circle cx="421.5" cy="268.6" r="2.6" stroke="#555" stroke-width="1.0" fill="#fff"/>
<path d="M413.3,219.7 C399,220.3 386,225.5 371.5,237.8 L375.5,241 C388,230 400,224.3 413.3,223.1 Z" fill="#6b6b6b"/>
<polygon points="363.6,251.4 371.1,229.3 373.8,238.2 383.8,241.5" stroke="none" stroke-width="0" fill="#6b6b6b" stroke-linejoin="round"/>
<path d="M438.1,219.7 C452.4,220.3 465.4,225.5 479.9,237.8 L475.9,241 C463.4,230 451.4,224.3 438.1,223.1 Z" fill="#6b6b6b"/>
<polygon points="486.5,252.5 479.4,229.6 476.9,238.2 466.8,241.6" stroke="none" stroke-width="0" fill="#6b6b6b" stroke-linejoin="round"/>
<path d="M570.5,350.5 L576.4,350.5 L583.4,356.3 L615,397.3 L603.4,458.3 C601,460.5 598,460.8 595,460.6 L570.5,461.8 Z" stroke="#5a5a5a" stroke-width="1.1" fill="#fff" />
<line x1="606.9" y1="303.1" x2="604.4" y2="332.5" stroke="#6a6a6a" stroke-width="1.0"/>
<line x1="614.4" y1="303.1" x2="611.2" y2="332.5" stroke="#6a6a6a" stroke-width="1.0"/>
<path d="M604.4,332.5 L611.25,332.5 L610.2,354 L602.6,354 Z" fill="#c8c8c8" stroke="#555" stroke-width="1"/>
<line x1="603.4" y1="346.0" x2="610.6" y2="346.0" stroke="#555" stroke-width="1.0"/>
<path d="M592,354 C604,354 613,356 618.6,361 C620,368 617,375 615,379.8 C608,388 600,393 594,395 C588,397 583,393.5 583.4,388 C584,383 587,379 590,375 Z" stroke="#5a5a5a" stroke-width="1.0" fill="#fff" />
<line x1="586.0" y1="364.0" x2="597.0" y2="381.0" stroke="#6a6a6a" stroke-width="0.9"/>
<line x1="594.0" y1="364.0" x2="603.0" y2="376.0" stroke="#7a7a7a" stroke-width="0.9"/>
<rect x="582.3" y="352.5" width="21.0" height="11.0" rx="2.5" stroke="#555" stroke-width="1.0" fill="#fff"/>
<rect x="585" y="353.3" width="16" height="5.2" fill="#4a4a4a"/>
<circle cx="590.2" cy="389.2" r="3.8" stroke="#5a5a5a" stroke-width="1.0" fill="#fff"/>
<line x1="606.9" y1="388.0" x2="616.2" y2="397.3" stroke="#5a5a5a" stroke-width="1.0"/>
<path d="M576.4,432.5 C578,442 581,450 590.5,457" stroke="#777" stroke-width="1.0" fill="none" />
<path d="M513.5,456.2 C513,440 516,428 522,419 C527,411 533,406 539.5,402 L541.5,406 C535,409.5 530,414 525,421 C520,429 518,441 517,456.2 Z" fill="#6b6b6b"/>
<polygon points="557.7,400.5 534.3,397.6 540.7,404.0 539.0,414.6" stroke="none" stroke-width="0" fill="#6b6b6b" stroke-linejoin="round"/>
<line x1="184.4" y1="220.3" x2="176.5" y2="231.0" stroke="#5e5e5e" stroke-width="1.0"/>
<polygon points="167.2,229.0 176.5,231.0 170.5,247.5 160.5,244.9" stroke="#5e5e5e" stroke-width="1.0" fill="#fff" stroke-linejoin="round"/>
<line x1="163.2" y1="239.5" x2="173.0" y2="241.8" stroke="#444" stroke-width="1.3"/>
<line x1="162.2" y1="242.2" x2="172.0" y2="244.5" stroke="#444" stroke-width="1.3"/>
<line x1="155.9" y1="253.0" x2="132.7" y2="294.7" stroke="#5e5e5e" stroke-width="1.0"/>
<line x1="166.5" y1="255.0" x2="145.3" y2="297.3" stroke="#5e5e5e" stroke-width="1.0"/>
<ellipse cx="161.2" cy="253.3" rx="5.4" ry="2.0" stroke="#5e5e5e" stroke-width="1.0" fill="#fff" transform="rotate(20 161.2 253.3)"/>
<path d="M143.5,275 Q150,281 155,277" stroke="#5e5e5e" stroke-width="1.0" fill="none" />
<path d="M153.2,270.8 Q157,274 159.9,279.4" stroke="#666" stroke-width="0.9" fill="none" />
<line x1="153.2" y1="238.2" x2="145.4" y2="248.4" stroke="#2e2e2e" stroke-width="2.6"/>
<polygon points="140.6,254.8 149.0,251.1 141.8,245.7" stroke="none" stroke-width="0" fill="#2e2e2e" stroke-linejoin="round"/>
<line x1="228.2" y1="220.3" x2="210.2" y2="260.8" stroke="#5e5e5e" stroke-width="1.0"/>
<line x1="238.8" y1="222.3" x2="221.5" y2="264.1" stroke="#5e5e5e" stroke-width="1.0"/>
<path d="M210.2,260.8 Q215,265 221.5,264.1" stroke="#5e5e5e" stroke-width="1.0" fill="none" />
<line x1="210.2" y1="261.0" x2="195.0" y2="292.0" stroke="#5e5e5e" stroke-width="1.0"/>
<line x1="221.5" y1="264.0" x2="208.2" y2="296.0" stroke="#5e5e5e" stroke-width="1.0"/>
<path d="M195,292 Q203,288 208.2,296" stroke="#5e5e5e" stroke-width="1.0" fill="none" />
<path d="M193,300 L195,292" stroke="#777" stroke-width="0.8" fill="none" />
<path d="M226.2,266.1 C228.5,258 225,249 217,247.5 C212.5,246.8 209,249 207,251.5" stroke="#2e2e2e" stroke-width="2.7" fill="none" />
<polygon points="202.3,256.2 204.9,248.2 213.5,253.5" stroke="none" stroke-width="0" fill="#2e2e2e" stroke-linejoin="round"/>
<line x1="191.6" y1="283.4" x2="206.2" y2="275.4" stroke="#666" stroke-width="0.9"/>
<line x1="163.0" y1="335.5" x2="162.3" y2="348.0" stroke="#5e5e5e" stroke-width="1.0"/>
<line x1="183.4" y1="335.5" x2="181.3" y2="350.0" stroke="#5e5e5e" stroke-width="1.0"/>
<path d="M160.2,349.6 Q170,354 179.2,352.4 L176.4,356 L176.4,366 Q176.4,371 169,371 Q161,371 161,366 L161,353 Z" stroke="#5e5e5e" stroke-width="1.0" fill="#fff" />
<line x1="161.5" y1="356.5" x2="176.0" y2="356.9" stroke="#555" stroke-width="1.6"/>
<line x1="161.5" y1="359.5" x2="176.0" y2="359.9" stroke="#555" stroke-width="1.6"/>
<line x1="161.5" y1="362.5" x2="176.0" y2="362.9" stroke="#555" stroke-width="1.6"/>
<line x1="161.5" y1="365.5" x2="176.0" y2="365.9" stroke="#555" stroke-width="1.6"/>
<line x1="161.5" y1="368.5" x2="176.0" y2="368.9" stroke="#555" stroke-width="1.6"/>
<path d="M182,350.2 C176,347.8 168,347.5 158.5,345.8" stroke="#2e2e2e" stroke-width="2.7" fill="none" />
<polygon points="152.5,340.5 154.6,349.6 161.0,342.6" stroke="none" stroke-width="0" fill="#2e2e2e" stroke-linejoin="round"/>
<path d="M138.4,369.3 Q150,371 156.7,379.9" stroke="#5e5e5e" stroke-width="1.0" fill="none" />
<path d="M154.6,385 L154.6,395 Q155,400 163,400 Q171.4,400 171.4,395 L171.4,385" stroke="#5e5e5e" stroke-width="1.0" fill="#fff" />
<ellipse cx="163.0" cy="384.8" rx="8.4" ry="3.5" stroke="#5e5e5e" stroke-width="1.0" fill="#fff" transform="rotate(0 163.0 384.8)"/>
<ellipse cx="163.0" cy="386.0" rx="6.5" ry="2.2" stroke="#888" stroke-width="0.8" fill="none" transform="rotate(0 163.0 386.0)"/>
<line x1="171.4" y1="396.0" x2="175.0" y2="408.0" stroke="#5e5e5e" stroke-width="1.0"/>
<line x1="142.0" y1="379.5" x2="156.0" y2="408.0" stroke="#555" stroke-width="1.2"/>
<line x1="138.6" y1="382.0" x2="144.0" y2="380.6" stroke="#6a6a6a" stroke-width="1.9"/>
<line x1="138.6" y1="386.4" x2="146.2" y2="385.0" stroke="#6a6a6a" stroke-width="1.9"/>
<line x1="138.6" y1="390.8" x2="148.4" y2="389.4" stroke="#6a6a6a" stroke-width="1.9"/>
<line x1="138.6" y1="395.2" x2="150.5" y2="393.8" stroke="#6a6a6a" stroke-width="1.9"/>
<line x1="138.6" y1="399.6" x2="152.7" y2="398.2" stroke="#6a6a6a" stroke-width="1.9"/>
<line x1="138.6" y1="404.0" x2="154.8" y2="402.6" stroke="#6a6a6a" stroke-width="1.9"/>
<line x1="138.6" y1="408.4" x2="157.0" y2="407.0" stroke="#6a6a6a" stroke-width="1.9"/>
<line x1="193.0" y1="582.0" x2="220.9" y2="548.9" stroke="#5e5e5e" stroke-width="1.0"/>
<line x1="205.6" y1="586.0" x2="227.5" y2="558.2" stroke="#5e5e5e" stroke-width="1.0"/>
<path d="M193,582 Q194,586 196,587" stroke="#5e5e5e" stroke-width="1.0" fill="none" />
<polygon points="219.5,547.5 230.0,557.0 228.0,560.0 217.5,550.5" stroke="#5e5e5e" stroke-width="1.0" fill="#fff" stroke-linejoin="round"/>
<polygon points="223.5,545.5 235.0,535.5 242.0,541.0 230.0,553.5" stroke="#5e5e5e" stroke-width="1.0" fill="#fff" stroke-linejoin="round"/>
<polygon points="229.0,545.0 234.0,540.5 238.0,544.0 233.0,549.0" stroke="none" stroke-width="0" fill="#6a6a6a" stroke-linejoin="round"/>
<circle cx="223.5" cy="542.5" r="2.8" stroke="#5e5e5e" stroke-width="1.0" fill="#fff"/>
<path d="M220.9,540 C222,530 224,518 226.2,509" stroke="#5e5e5e" stroke-width="1.0" fill="none" />
<path d="M231.5,540 C234,535 236,533 238.2,531.6 C243,525 247,516 251.4,510.3" stroke="#5e5e5e" stroke-width="1.0" fill="none" />
<path d="M242,541 L248.8,538.2 C252,536 253,534 252.8,532.9" stroke="#5e5e5e" stroke-width="1.0" fill="none" />
<ellipse cx="258.1" cy="515.6" rx="3.6" ry="4.6" stroke="#5e5e5e" stroke-width="1.0" fill="#fff" transform="rotate(25 258.1 515.6)"/>
<ellipse cx="254.6" cy="525.8" rx="3.6" ry="4.2" stroke="#5e5e5e" stroke-width="1.0" fill="#fff" transform="rotate(25 254.6 525.8)"/>
<ellipse cx="252.8" cy="532.9" rx="3.2" ry="3.4" stroke="#5e5e5e" stroke-width="1.0" fill="#fff" transform="rotate(25 252.8 532.9)"/>
<ellipse cx="210.9" cy="564.8" rx="1.8" ry="3.0" stroke="#5e5e5e" stroke-width="1.0" fill="none" transform="rotate(30 210.9 564.8)"/>
<line x1="206.9" y1="535.6" x2="213.4" y2="540.5" stroke="#777" stroke-width="2.4"/>
<polygon points="218.2,544.2 210.2,543.7 214.6,537.8" stroke="none" stroke-width="0" fill="#777" stroke-linejoin="round"/>
<line x1="247.5" y1="554.2" x2="236.5" y2="566.8" stroke="#2e2e2e" stroke-width="2.7"/>
<polygon points="230.8,573.4 231.5,564.1 239.5,570.1" stroke="none" stroke-width="0" fill="#2e2e2e" stroke-linejoin="round"/>
<text x="25.6" y="21.0" font-size="12" font-weight="bold" fill="#fff" stroke="#fff" stroke-width="0.35" dominant-baseline="central" textLength="48.2" lengthAdjust="spacingAndGlyphs">各部名称</text>
<text x="90.0" y="21.0" font-size="12" font-weight="bold" fill="#fff" stroke="#fff" stroke-width="0.35" dominant-baseline="central" textLength="73.3" lengthAdjust="spacingAndGlyphs">組み立て方法</text>
<text x="359.0" y="19.4" font-size="12" font-weight="bold" fill="#fff" stroke="#fff" stroke-width="0.35" dominant-baseline="central" textLength="49.5" lengthAdjust="spacingAndGlyphs">使用方法</text>
<text x="278.1" y="41.7" font-size="9.2" font-weight="normal" fill="#2e2e2e" stroke="#2e2e2e" stroke-width="0.45" dominant-baseline="central" textLength="26.3" lengthAdjust="spacingAndGlyphs">持ち手</text>
<text x="187.6" y="76.2" font-size="9.2" font-weight="normal" fill="#2e2e2e" stroke="#2e2e2e" stroke-width="0.45" dominant-baseline="central" textLength="43.6" lengthAdjust="spacingAndGlyphs">ストッパー</text>
<text x="187.8" y="87.5" font-size="6.6" font-weight="normal" fill="#333" stroke="#333" stroke-width="0.28" dominant-baseline="central" textLength="64.8" lengthAdjust="spacingAndGlyphs">※ほうきを取り付けて</text>
<text x="193.9" y="97.0" font-size="6.4" font-weight="normal" fill="#333" stroke="#333" stroke-width="0.28" dominant-baseline="central" textLength="48.3" lengthAdjust="spacingAndGlyphs">保管できます。</text>
<text x="137.0" y="151.6" font-size="9.2" font-weight="normal" fill="#2e2e2e" stroke="#2e2e2e" stroke-width="0.45" dominant-baseline="central" textLength="27.8" lengthAdjust="spacingAndGlyphs">持ち手</text>
<circle cx="288.1" cy="151.1" r="3.7" fill="#2a2a2a"/>
<text x="292.8" y="151.1" font-size="8.8" font-weight="normal" fill="#333" stroke="#333" stroke-width="0.3" dominant-baseline="central" textLength="27.2" lengthAdjust="spacingAndGlyphs">ロッド</text>
<text x="320.6" y="154.9" font-size="10.5" font-weight="bold" fill="#333" style="font-family:'Liberation Sans',sans-serif">3</text>
<circle cx="36.5" cy="197.7" r="3.5" fill="#2a2a2a"/>
<text x="42.3" y="197.7" font-size="8.8" font-weight="normal" fill="#333" stroke="#333" stroke-width="0.3" dominant-baseline="central" textLength="27.0" lengthAdjust="spacingAndGlyphs">ロッド</text>
<text x="69.6" y="201.5" font-size="10.5" font-weight="bold" fill="#333" style="font-family:'Liberation Sans',sans-serif">1</text>
<circle cx="283.3" cy="295.1" r="3.8" fill="#2a2a2a"/>
<text x="288.7" y="295.1" font-size="8.8" font-weight="normal" fill="#333" stroke="#333" stroke-width="0.3" dominant-baseline="central" textLength="25.8" lengthAdjust="spacingAndGlyphs">ロッド</text>
<text x="314.7" y="298.9" font-size="10.5" font-weight="bold" fill="#333" style="font-family:'Liberation Sans',sans-serif">4</text>
<circle cx="35.1" cy="367.7" r="3.5" fill="#2a2a2a"/>
<text x="40.0" y="367.7" font-size="8.8" font-weight="normal" fill="#333" stroke="#333" stroke-width="0.3" dominant-baseline="central" textLength="26.4" lengthAdjust="spacingAndGlyphs">ロッド</text>
<text x="67.2" y="371.5" font-size="10.5" font-weight="bold" fill="#333" style="font-family:'Liberation Sans',sans-serif">2</text>
<text x="134.2" y="191.7" font-size="7.6" font-weight="normal" fill="#2e2e2e" stroke="#2e2e2e" stroke-width="0.45" dominant-baseline="central" textLength="102.0" lengthAdjust="spacingAndGlyphs">グリップ部分にロッドの先端を</text>
<text x="134.2" y="200.7" font-size="7.6" font-weight="normal" fill="#2e2e2e" stroke="#2e2e2e" stroke-width="0.45" dominant-baseline="central" textLength="105.1" lengthAdjust="spacingAndGlyphs">差し込み矢印の方向に回して</text>
<text x="134.2" y="210.2" font-size="7.6" font-weight="normal" fill="#2a2a2a" stroke="#2a2a2a" stroke-width="0.45" dominant-baseline="central" textLength="109.8" lengthAdjust="spacingAndGlyphs">しっかりと固定してください。</text>
<text x="132.9" y="222.2" font-size="7.8" font-weight="normal" fill="#2e2e2e" stroke="#2e2e2e" stroke-width="0.45" dominant-baseline="central" textLength="41.3" lengthAdjust="spacingAndGlyphs">①差し込む</text>
<text x="193.9" y="237.6" font-size="7.8" font-weight="normal" fill="#2e2e2e" stroke="#2e2e2e" stroke-width="0.45" dominant-baseline="central" textLength="24.7" lengthAdjust="spacingAndGlyphs">②回す</text>
<text x="157.5" y="286.7" font-size="7.8" font-weight="normal" fill="#2e2e2e" stroke="#2e2e2e" stroke-width="0.45" dominant-baseline="central" textLength="31.3" lengthAdjust="spacingAndGlyphs">グリップ</text>
<text x="119.2" y="427.0" font-size="7.4" font-weight="normal" fill="#2e2e2e" stroke="#2e2e2e" stroke-width="0.45" dominant-baseline="central" textLength="75.8" lengthAdjust="spacingAndGlyphs">※上記と同様に回して</text>
<text x="125.9" y="436.2" font-size="7.4" font-weight="normal" fill="#2e2e2e" stroke="#2e2e2e" stroke-width="0.45" dominant-baseline="central" textLength="61.8" lengthAdjust="spacingAndGlyphs">固定してください</text>
<text x="263.9" y="440.5" font-size="9" font-weight="normal" fill="#2e2e2e" stroke="#2e2e2e" stroke-width="0.45" dominant-baseline="central" textLength="17.3" lengthAdjust="spacingAndGlyphs">クシ</text>
<text x="34.5" y="477.8" font-size="9" font-weight="normal" fill="#2e2e2e" stroke="#2e2e2e" stroke-width="0.45" dominant-baseline="central" textLength="27.8" lengthAdjust="spacingAndGlyphs">ボタン</text>
<circle cx="195.8" cy="481.2" r="4.2" fill="#231f20"/>
<text x="200.4" y="481.2" font-size="9.4" font-weight="normal" fill="#2e2e2e" stroke="#2e2e2e" stroke-width="0.45" dominant-baseline="central" textLength="36.1" lengthAdjust="spacingAndGlyphs">ちりとり</text>
<circle cx="25.3" cy="579.5" r="4.3" fill="#231f20"/>
<text x="29.8" y="579.5" font-size="9.4" font-weight="normal" fill="#2e2e2e" stroke="#2e2e2e" stroke-width="0.45" dominant-baseline="central" textLength="27.0" lengthAdjust="spacingAndGlyphs">ほうき</text>
<text x="186.9" y="527.0" font-size="7.8" font-weight="normal" fill="#2e2e2e" stroke="#2e2e2e" stroke-width="0.45" dominant-baseline="central" textLength="23.1" lengthAdjust="spacingAndGlyphs">①押す</text>
<text x="246.6" y="567.3" font-size="7.8" font-weight="normal" fill="#2e2e2e" stroke="#2e2e2e" stroke-width="0.45" dominant-baseline="central" textLength="40.8" lengthAdjust="spacingAndGlyphs">②差し込む</text>
<text x="185.7" y="594.2" font-size="8.0" font-weight="normal" fill="#2e2e2e" stroke="#2e2e2e" stroke-width="0.45" dominant-baseline="central" textLength="108.5" lengthAdjust="spacingAndGlyphs">ボタンを押しながらほうき部分</text>
<text x="185.7" y="603.8" font-size="8.0" font-weight="normal" fill="#2a2a2a" stroke="#2a2a2a" stroke-width="0.45" dominant-baseline="central" textLength="117.6" lengthAdjust="spacingAndGlyphs">にロッドの先端を差し込みます。</text>
<text x="185.8" y="613.3" font-size="6.8" font-weight="normal" fill="#2e2e2e" stroke="#2e2e2e" stroke-width="0.28" dominant-baseline="central" textLength="107.4" lengthAdjust="spacingAndGlyphs">※カチッと音がするまで差し込んで</text>
<text x="191.9" y="619.7" font-size="6.5" font-weight="normal" fill="#2a2a2a" stroke="#2a2a2a" stroke-width="0.28" dominant-baseline="central" textLength="35.2" lengthAdjust="spacingAndGlyphs">ください。</text>
<circle cx="348.3" cy="49.6" r="4.7" fill="#231f20"/>
<text x="354.3" y="50.2" font-size="11" font-weight="normal" fill="#2a2a2a" stroke="#2a2a2a" stroke-width="0.42" dominant-baseline="central" textLength="157.7" lengthAdjust="spacingAndGlyphs">掃除後、ほうきについたゴミを</text>
<text x="354.9" y="63.1" font-size="11" font-weight="normal" fill="#2a2a2a" stroke="#2a2a2a" stroke-width="0.42" dominant-baseline="central" textLength="148.7" lengthAdjust="spacingAndGlyphs">ちりとりのクシ部分で落とす</text>
<text x="354.9" y="75.2" font-size="11" font-weight="normal" fill="#2a2a2a" stroke="#2a2a2a" stroke-width="0.42" dominant-baseline="central" textLength="92.2" lengthAdjust="spacingAndGlyphs">ことができます。</text>
<circle cx="503.0" cy="237.9" r="4.5" fill="#231f20"/>
<text x="508.1" y="237.9" font-size="11" font-weight="normal" fill="#2a2a2a" stroke="#2a2a2a" stroke-width="0.42" dominant-baseline="central" textLength="125.8" lengthAdjust="spacingAndGlyphs">柄の部分は左右に角度を</text>
<text x="509.1" y="250.4" font-size="11" font-weight="normal" fill="#2a2a2a" stroke="#2a2a2a" stroke-width="0.42" dominant-baseline="central" textLength="127.0" lengthAdjust="spacingAndGlyphs">変えることができます。</text>
<circle cx="349.1" cy="351.0" r="4.7" fill="#231f20"/>
<text x="354.9" y="351.0" font-size="11" font-weight="normal" fill="#2a2a2a" stroke="#2a2a2a" stroke-width="0.42" dominant-baseline="central" textLength="157.1" lengthAdjust="spacingAndGlyphs">ちりとりは畳んで小スペースで</text>
<text x="354.9" y="363.2" font-size="11" font-weight="normal" fill="#2a2a2a" stroke="#2a2a2a" stroke-width="0.42" dominant-baseline="central" textLength="76.8" lengthAdjust="spacingAndGlyphs">収納できます。</text>
<text x="356.5" y="377.9" font-size="8.6" font-weight="normal" fill="#333" stroke="#333" stroke-width="0.45" dominant-baseline="central" textLength="155.5" lengthAdjust="spacingAndGlyphs">※ちりとりを畳んだ状態で自立させる</text>
<text x="362.1" y="387.8" font-size="8.6" font-weight="normal" fill="#333" stroke="#333" stroke-width="0.45" dominant-baseline="central" textLength="84.9" lengthAdjust="spacingAndGlyphs">ことはできません。</text>
</svg>
</body></html>
